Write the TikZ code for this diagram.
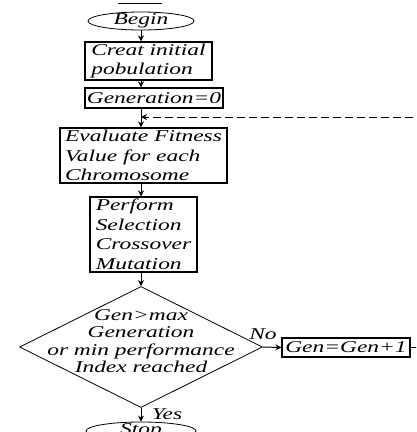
\documentclass[tikz,border=0pt]{standalone}
\usepackage{fontspec}
\setmainfont{Liberation Serif}[FakeStretch=1.42]
\usetikzlibrary{shapes.geometric,arrows.meta}

\tikzset{
  procbox/.style={draw, line width=1.1pt, rectangle, align=left, inner sep=1pt},
  termbox/.style={draw, line width=0.8pt, ellipse, inner sep=0pt, text height=8pt, text depth=1pt},
  flowline/.style={line width=1pt, -{Stealth[length=6pt,width=6pt]}},
  loopline/.style={line width=1pt, dash pattern=on 8pt off 4pt, -{Stealth[length=6pt,width=6pt]}},
}

\begin{document}
\begin{tikzpicture}[x=1pt,y=1pt,font=\fontsize{16.5}{19.5}\selectfont\itshape]
\useasboundingbox (0,0) rectangle (416,-432);
\clip (0,0) rectangle (416,-432);

% stray rule at the top edge
\draw[line width=1pt] (118,-3) -- (162,-3);

% the main column of the flow chart
\node[termbox, minimum width=106, minimum height=18] (begin) at (141,-21) {Begin};
\node[procbox, minimum width=127, minimum height=38] (creat) at (148.5,-61) {Creat initial\\pobulation};
\node[procbox, minimum width=138, minimum height=20] (gen0) at (154,-98) {Generation=0};
\node[procbox, minimum width=167, minimum height=55] (eval) at (143.5,-155.5) {Evaluate Fitness\\Value for each\\Chromosome};
\node[procbox, minimum width=107, minimum height=75] (perform) at (143.5,-234.5) {Perform\\Selection\\Crossover\\Mutation};

% the test
\node[draw, line width=0.8pt, diamond, inner sep=0pt, minimum width=243, minimum height=121] (check) at (141,-347) {};
\node[align=center, font=\fontsize{16.5}{17.5}\selectfont\itshape] (checktxt) at (141,-341) {Gen>max\\Generation\\or min performance\\Index reached};

\node[procbox, minimum width=128, minimum height=19] (gen1) at (346,-347.5) {Gen=Gen+1};
\node[termbox, minimum width=110, minimum height=18] (stop) at (141,-431) {Stop};

\coordinate (join) at (141,-117);

% connectors
\draw[flowline] (begin.south) -- (begin.south |- creat.north);
\draw[flowline] (creat.south -| begin.south) -- (gen0.north -| begin.south);
\draw[flowline] (gen0.south -| begin.south) -- (eval.north -| begin.south);
\draw[flowline] (eval.south -| begin.south) -- (perform.north -| begin.south);
\draw[flowline] (perform.south -| begin.south) -- (check.north);
\draw[flowline] (check.south) -- (stop.north);
\draw[flowline] (check.east) -- (gen1.west);
\draw[loopline] (gen1.east) -- ++(30,0) |- (join);

% labels on the branches
\node (nolbl) at (263,-334) {No};
\node (yeslbl) at (167,-414) {Yes};

\end{tikzpicture}
\end{document}
